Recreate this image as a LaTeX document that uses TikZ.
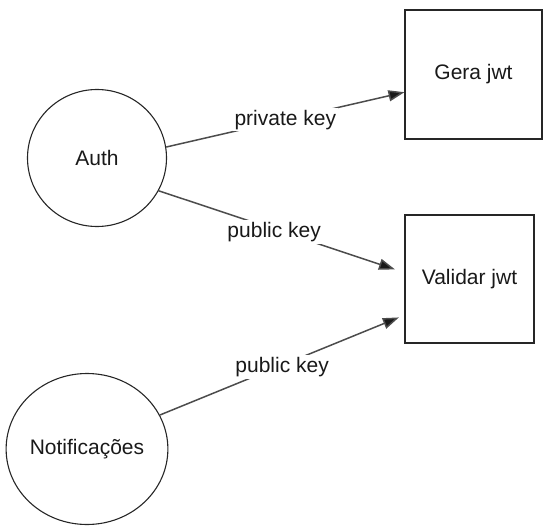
\documentclass[tikz,border=0pt]{standalone}
\usepackage{fontspec}
\setmainfont{Liberation Sans}
\usetikzlibrary{shapes.geometric,arrows.meta,calc}
\begin{document}
\begin{tikzpicture}[x=1pt,y=-1pt,
  lbl/.style={font=\fontsize{21}{24}\selectfont, text=black!90},
  circ/.style={draw=black!85, line width=1.1pt, ellipse, inner sep=0pt, lbl},
  sq/.style={draw=black!85, line width=1.1pt, rectangle, inner sep=0pt, lbl},
  conn/.style={draw=black!70, line width=1.5pt, -{Triangle[length=16pt,width=11pt,fill=black!90]}},
  edgelbl/.style={lbl, fill=white, inner sep=2pt}
]
\useasboundingbox (0,0) rectangle (554,532);
\node[circ, minimum width=139pt, minimum height=137pt] (auth) at (97,158) {Auth};
\node[circ, minimum width=157pt, minimum height=151pt] (notif) at (87,449) {Notificações};
\node[sq, minimum width=137pt, minimum height=129pt] (gera) at (473.5,74.5) {Gera jwt};
\node[sq, minimum width=129pt, minimum height=128pt] (valid) at (469.5,279) {Validar jwt};

\draw[conn] (auth.9) -- ($(gera.north west)!0.636!(gera.south west)$)
  node[edgelbl, pos=0.5] {private key};
\draw[conn, shorten >=10pt] (auth.-28) -- ($(valid.north west)!0.45!(valid.south west)$)
  node[edgelbl, pos=0.47, yshift=-3pt] {public key};
\draw[conn, shorten >=6pt] (notif.25) -- ($(valid.north west)!0.78!(valid.south west)$)
  node[edgelbl, pos=0.5, yshift=-2pt] {public key};
\end{tikzpicture}
\end{document}
